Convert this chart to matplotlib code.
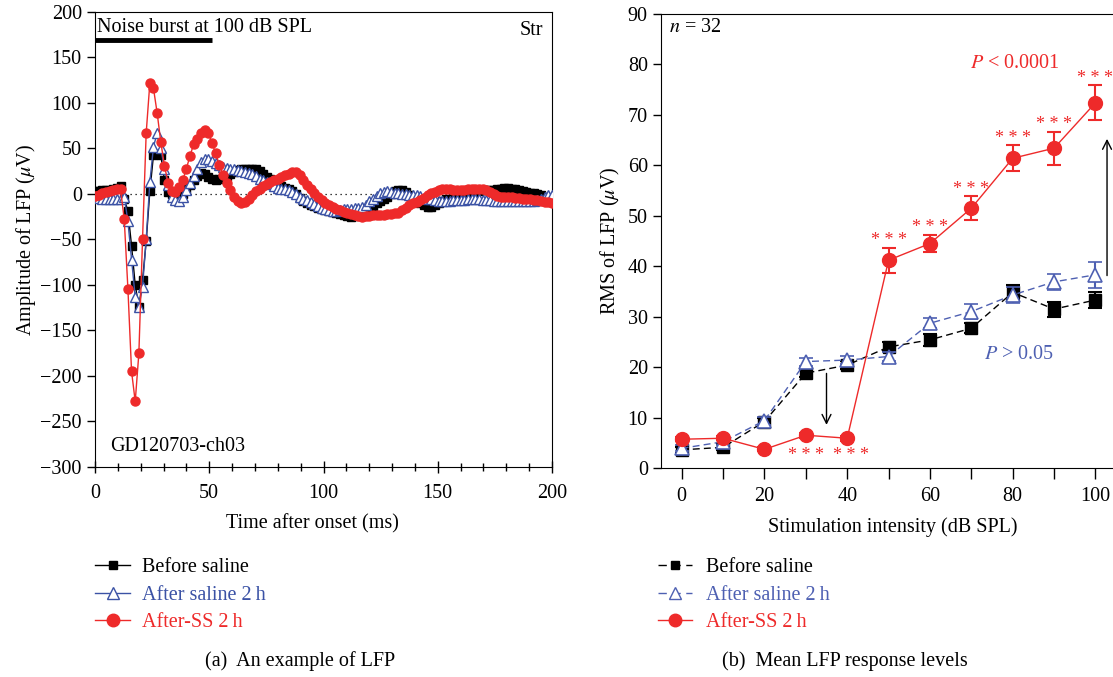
import numpy as np
import matplotlib.pyplot as plt
from matplotlib.lines import Line2D

plt.rcParams['font.family'] = ['Liberation Serif', 'DejaVu Serif']
plt.rcParams['mathtext.fontset'] = 'stix'
plt.rcParams['font.size'] = 14.5

RED = '#EE2A2A'
BLUE = '#3B52A5'
BLUE2 = '#4E60B2'

# (a) single-channel LFP trace, one sample every 1.6 ms
dt_ms = 1.6
before_lfp = [3, 3, 4, 4, 4, 5, 7, 9, -5, -19, -57, -100, -124, -95, -52, 3, 43, 44, 43, 15,
              2, 0, -2, -3, 0, 5, 10, 15, 20, 23, 22, 19, 16, 15, 16, 18, 20, 22, 24, 26,
              27, 28, 28, 28, 27, 25, 22, 19, 16, 13, 11, 9, 7, 5, 3, 0, -4, -8, -10, -12,
              -13, -15, -16, -18, -19, -20, -21, -22, -23, -24, -25, -24, -22, -20, -18, -15, -13, -10, -8, -6,
              -3, 0, 3, 4, 4, 2, -1, -4, -7, -10, -12, -14, -14, -12, -10, -8, -6, -5, -4, -3,
              -2, -1, 0, 1, 2, 3, 4, 4, 4, 4, 5, 6, 7, 7, 6, 5, 4, 3, 2, 1,
              1, 0, -1, -3, -4, -5]
after_saline_lfp = [-3, -4, -5, -6, -6, -6, -6, -5, -3, -30, -72, -113, -124, -102, -50, 13, 52, 67, 50, 28,
                    10, -3, -7, -8, -3, 4, 12, 20, 28, 35, 39, 38, 36, 34, 32, 30, 29, 28, 27, 26,
                    25, 24, 23, 22, 20, 17, 15, 13, 11, 9, 7, 6, 5, 4, 2, 0, -3, -5, -7, -9,
                    -11, -13, -15, -16, -18, -19, -19, -18, -17, -16, -16, -15, -15, -14, -12, -8, -5, -2, 1, 2,
                    3, 2, 1, 1, 0, 0, -1, -1, -1, -2, -4, -5, -6, -7, -8, -8, -8, -8, -7, -7,
                    -7, -7, -6, -6, -6, -6, -7, -7, -7, -8, -8, -8, -8, -8, -8, -8, -8, -8, -8, -8,
                    -8, -7, -5, -3, -1, -1]
after_ss_lfp = [-2, -1, 1, 2, 3, 4, 5, 5, -28, -104, -195, -228, -175, -50, 67, 122, 116, 89, 57, 31,
                12, 3, 2, 8, 15, 28, 42, 55, 60, 67, 70, 67, 56, 45, 32, 21, 12, 4, -3, -8,
                -10, -9, -5, -1, 3, 6, 9, 11, 13, 15, 17, 19, 21, 22, 24, 24, 21, 15, 10, 5,
                1, -3, -7, -10, -12, -14, -16, -18, -20, -21, -22, -23, -24, -25, -24, -24, -23, -23, -23, -23,
                -22, -22, -21, -21, -18, -15, -12, -10, -9, -7, -4, -1, 1, 2, 4, 5, 6, 5, 4, 4,
                4, 4, 5, 5, 6, 6, 5, 4, 2, 0, -2, -3, -3, -3, -3, -4, -4, -5, -5, -6,
                -7, -7, -8, -9, -9, -10]
time_ms = np.arange(len(before_lfp)) * dt_ms

# (b) mean RMS of LFP vs intensity
levels = [0, 10, 20, 30, 40, 50, 60, 70, 80, 90, 100]
rms_before = [3.6, 4.1, 9.2, 18.8, 20.4, 24.0, 25.4, 27.7, 34.8, 31.5, 33.3]
err_before = [0.6, 0.6, 0.8, 0.8, 0.8, 0.9, 1.2, 1.0, 1.5, 1.5, 1.5]
rms_saline = [3.9, 5.2, 9.4, 21.1, 21.4, 22.1, 28.7, 31.0, 34.3, 36.9, 38.3]
err_saline = [0.6, 0.6, 0.8, 0.8, 0.8, 0.9, 1.0, 1.5, 1.5, 1.6, 2.6]
rms_ss = [5.7, 5.9, 3.7, 6.5, 5.9, 41.2, 44.5, 51.5, 61.4, 63.4, 72.4]
err_ss = [0.4, 0.4, 0.4, 0.5, 0.5, 2.5, 1.7, 2.4, 2.6, 3.3, 3.5]
stars_at = [30, 40, 50, 60, 70, 80, 90, 100]

fig = plt.figure(figsize=(11.13, 6.77), dpi=100)
ax1 = fig.add_axes([95 / 1113, 1 - 467 / 677, 457 / 1113, 455 / 677])
ax2 = fig.add_axes([661 / 1113, 1 - 468 / 677, 451 / 1113, 454 / 677])

# ---- panel (a)
ax1.axhline(0, color='black', lw=0.9, ls=(0, (1, 3)), zorder=1)
ax1.plot(time_ms, before_lfp, color='black', lw=1, marker='s', ms=5.5, zorder=2)
ax1.plot(time_ms, after_saline_lfp, color=BLUE, lw=1, marker='^', ms=6.5,
         mfc='white', mec=BLUE, mew=1, zorder=3)
ax1.plot(time_ms, after_ss_lfp, color=RED, lw=1, marker='o', ms=6.5, mec=RED, zorder=4)
ax1.plot([0, 51], [169, 169], color='black', lw=3.5, solid_capstyle='butt', zorder=5)
ax1.text(1, 183, 'Noise burst at 100 dB SPL', ha='left', va='center')
ax1.text(196, 180, 'Str', ha='right', va='center')
ax1.text(6.5, -278, 'GD120703-ch03', ha='left', va='center')
ax1.set_xlim(0, 200)
ax1.set_ylim(-300, 200)
ax1.set_xticks([0, 50, 100, 150, 200])
ax1.set_xticks(np.arange(0, 201, 10), minor=True)
ax1.set_yticks(np.arange(-300, 201, 50))
ax1.tick_params(axis='x', which='both', direction='inout', length=8, width=1, pad=8)
ax1.tick_params(axis='x', which='minor', length=6)
ax1.tick_params(axis='y', direction='out', length=6, width=1)
ax1.set_xlabel('Time after onset (ms)', labelpad=8, x=0.475)
ax1.set_ylabel(r'Amplitude of LFP ($\mu$V)', labelpad=2)

# ---- panel (b)
ax2.errorbar(levels, rms_before, yerr=err_before, color='black', lw=1, ls=(0, (5, 3)),
             marker='s', ms=8, capsize=5, capthick=1.5, elinewidth=1.5, zorder=3)
ax2.errorbar(levels, rms_saline, yerr=err_saline, color=BLUE2, lw=1, ls=(0, (5, 3)),
             marker='^', ms=10, mfc='white', mec=BLUE2, mew=1.2,
             capsize=5, capthick=1.5, elinewidth=1.5, zorder=4)
ax2.errorbar(levels, rms_ss, yerr=err_ss, color=RED, lw=1, marker='o', ms=10,
             capsize=5, capthick=1.5, elinewidth=1.5, zorder=5)
for lv in stars_at:
    k = levels.index(lv)
    if rms_ss[k] > rms_before[k]:
        ys = rms_ss[k] + err_ss[k] + 1.4
    else:
        ys = 2.4
    ax2.text(lv + (1 if lv == 40 else 0), ys, '* * *', color=RED, ha='center',
             va='center', fontsize=13)
ax2.annotate('', xy=(35, 8.0), xytext=(35, 19.3),
             arrowprops=dict(arrowstyle='->', color='black', lw=1, mutation_scale=16))
ax2.annotate('', xy=(102.8, 65.8), xytext=(102.8, 37.6),
             arrowprops=dict(arrowstyle='->', color='black', lw=1, mutation_scale=16))
ax2.text(-3, 87.3, r'$n$ = 32', ha='left', va='center')
ax2.text(80.5, 80.2, r'$P$ < 0.0001', color=RED, ha='center', va='center')
ax2.text(81.5, 22.5, r'$P$ > 0.05', color=BLUE2, ha='center', va='center')
ax2.set_xlim(-5, 104)
ax2.set_ylim(0, 90)
ax2.set_xticks([0, 20, 40, 60, 80, 100])
ax2.set_xticks(np.arange(0, 101, 10), minor=True)
ax2.set_yticks(np.arange(0, 91, 10))
ax2.spines['right'].set_visible(False)
ax2.tick_params(axis='x', which='both', direction='out', length=8, width=1, pad=6)
ax2.tick_params(axis='y', direction='out', length=6, width=1)
ax2.set_xlabel('Stimulation intensity (dB SPL)', labelpad=8, x=0.514)
ax2.set_ylabel(r'RMS of LFP ($\mu$V)', labelpad=4)

# ---- legends and captions
names = ['Before saline', 'After saline 2\u2009h', 'After-SS 2\u2009h']
colors = ['black', BLUE, RED]
h_a = [Line2D([], [], color='black', lw=1, marker='s', ms=6),
       Line2D([], [], color=BLUE, lw=1, marker='^', ms=9, mfc='white', mec=BLUE),
       Line2D([], [], color=RED, lw=1, marker='o', ms=9)]
h_b = [Line2D([], [], color='black', lw=1, ls=(0, (6, 4)), marker='s', ms=6),
       Line2D([], [], color=BLUE2, lw=1, ls=(0, (6, 4)), marker='^', ms=9, mfc='white', mec=BLUE2),
       Line2D([], [], color=RED, lw=1, marker='o', ms=9)]
fig.legend(h_a, names, loc='upper left', bbox_to_anchor=(95 / 1113, 1 - 558 / 677),
           frameon=False, labelcolor=colors, handlelength=1.75, handletextpad=0.58,
           labelspacing=0.42, borderpad=0, borderaxespad=0)
fig.legend(h_b, names, loc='upper left', bbox_to_anchor=(658 / 1113, 1 - 558 / 677),
           frameon=False, labelcolor=[colors[0], BLUE2, RED], handlelength=1.7,
           handletextpad=0.7, labelspacing=0.42, borderpad=0, borderaxespad=0)
fig.text(300 / 1113, 1 - 661 / 677, '(a)  An example of LFP', ha='center', va='center')
fig.text(845 / 1113, 1 - 661 / 677, '(b)  Mean LFP response levels', ha='center', va='center')

fig.savefig('out.png', dpi=100, facecolor='white')
